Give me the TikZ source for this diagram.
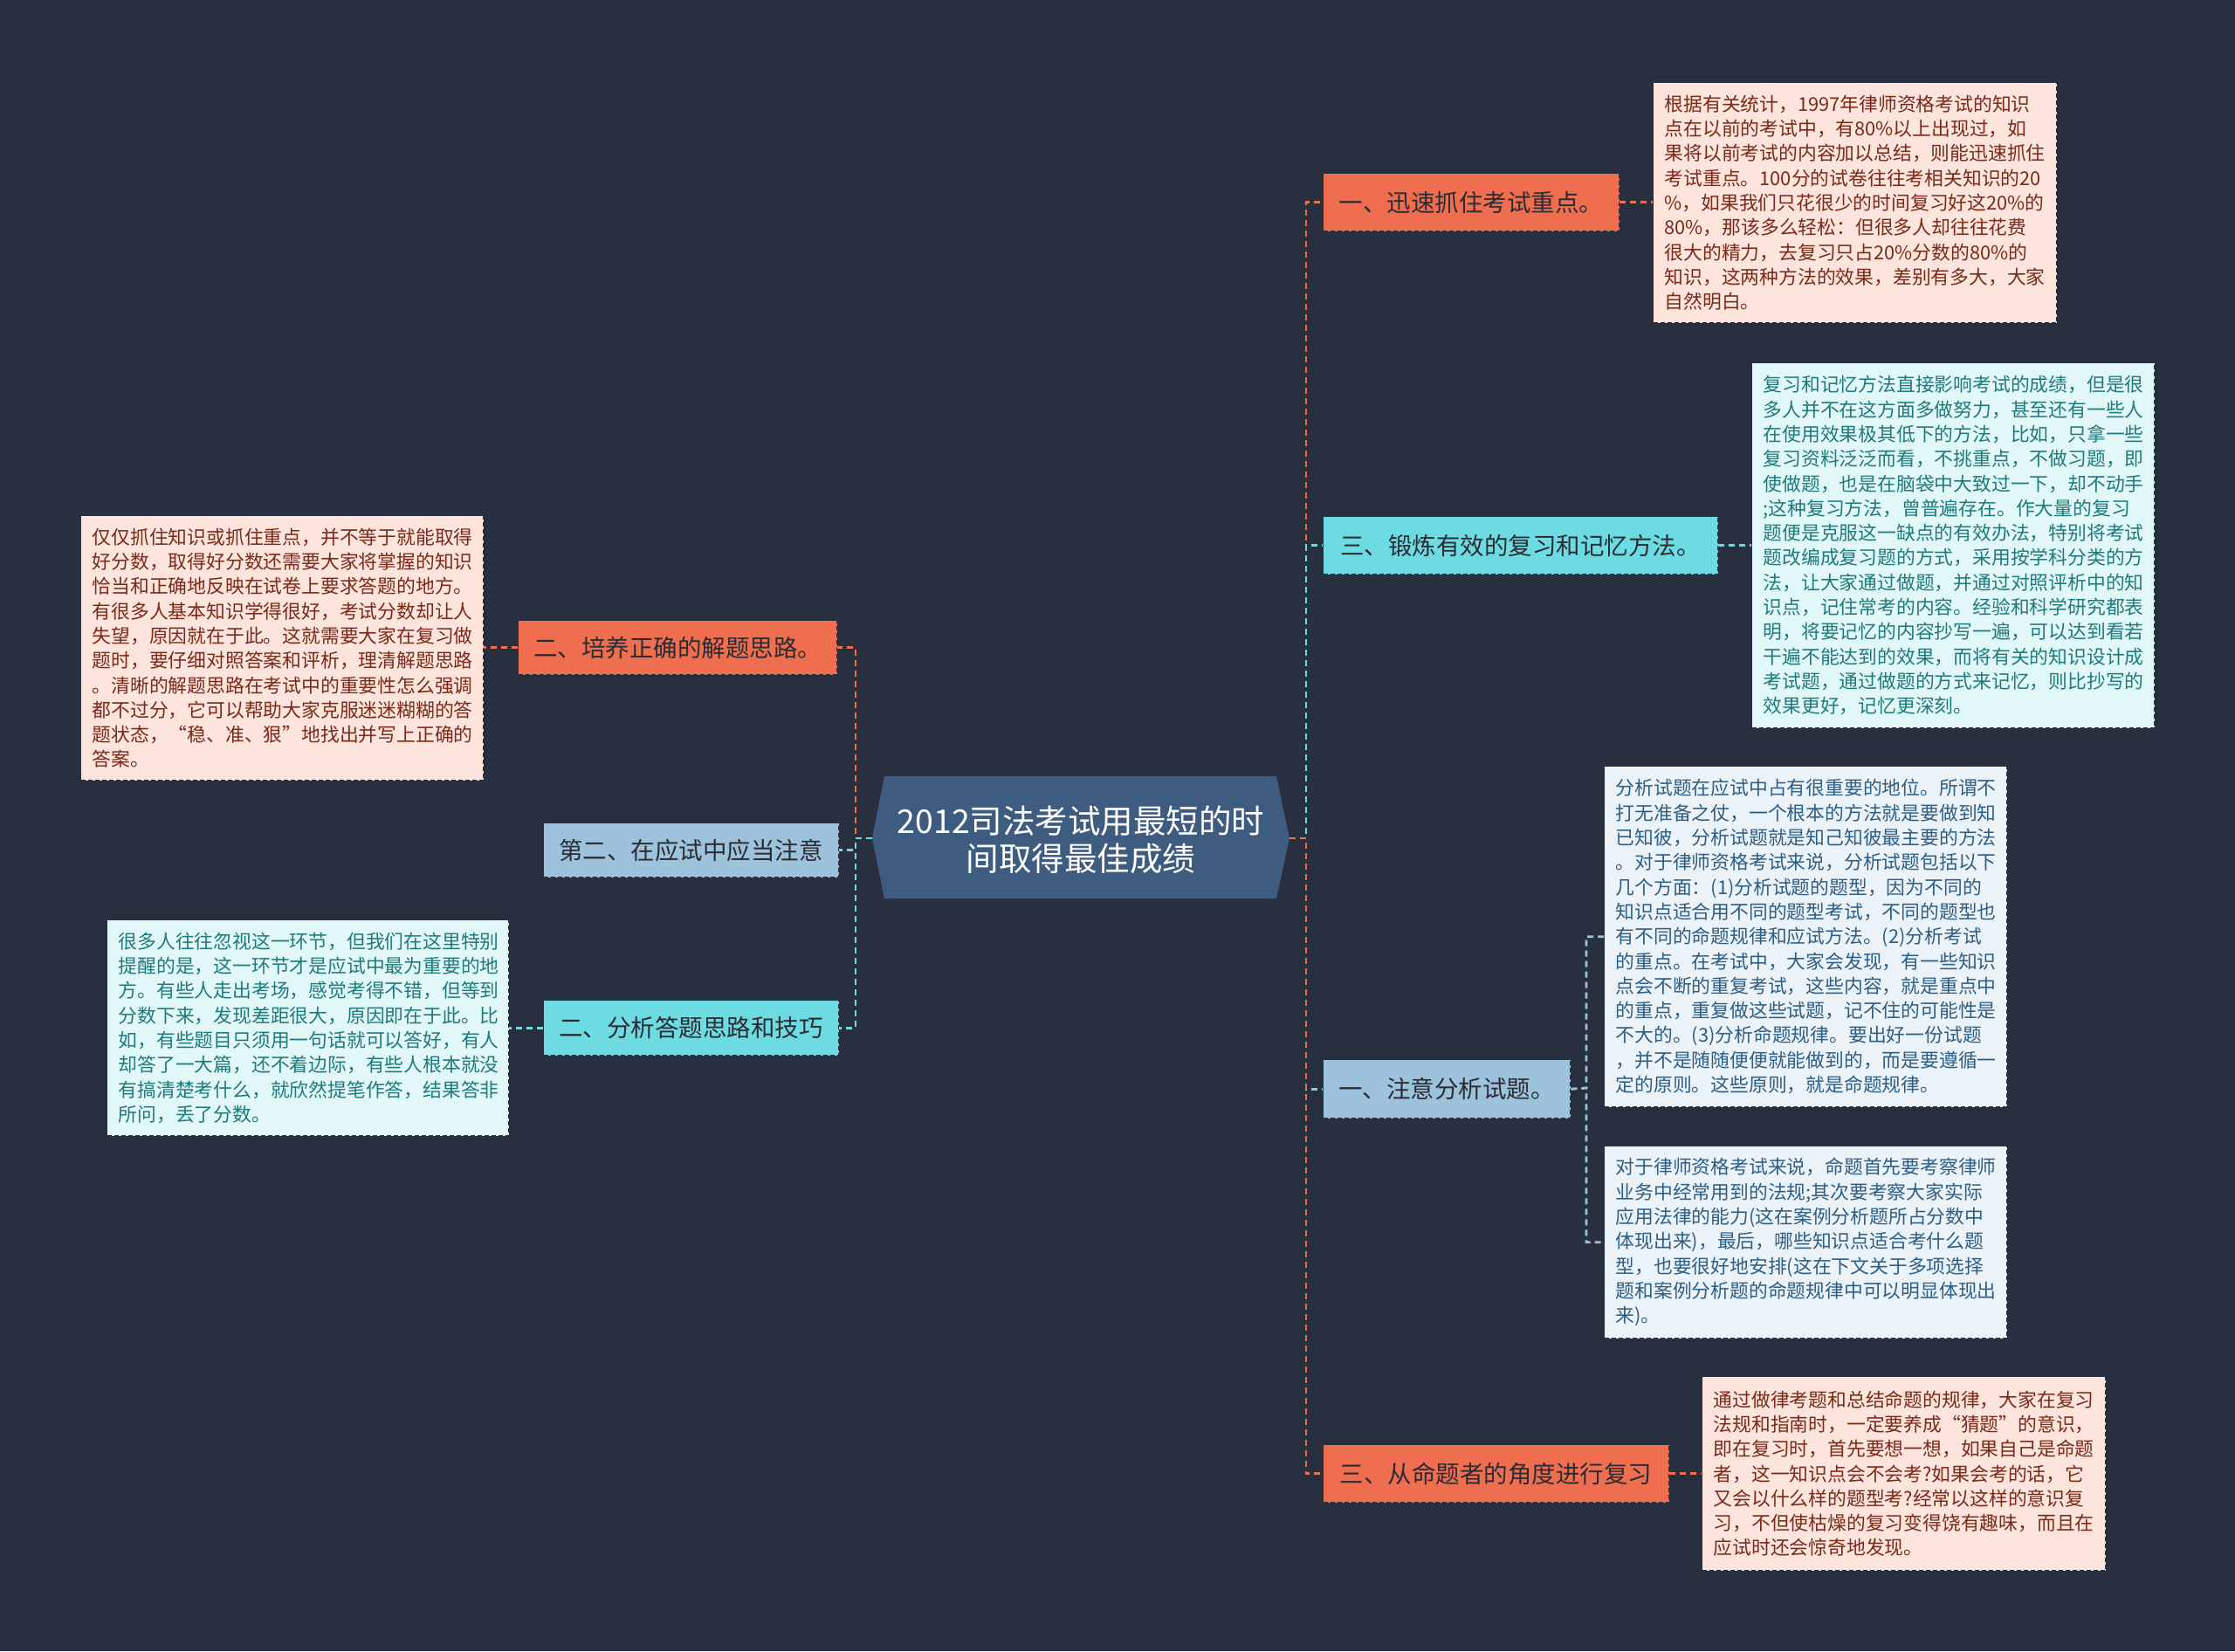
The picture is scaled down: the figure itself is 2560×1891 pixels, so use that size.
\documentclass[tikz,border=0pt]{standalone}
\usepackage{fontspec}
\setmainfont{Noto Sans CJK SC}
\definecolor{bgc}{HTML}{28303F}
\definecolor{cen}{HTML}{3E5B80}
\definecolor{ora}{HTML}{EE6E4F}
\definecolor{cya}{HTML}{6CDCE2}
\definecolor{blu}{HTML}{9DC3DC}
\definecolor{orafill}{HTML}{FDE4DD}
\definecolor{cyafill}{HTML}{E2F8F8}
\definecolor{blufill}{HTML}{ECF3F8}
\definecolor{oratext}{HTML}{7B2A17}
\definecolor{cyatext}{HTML}{1F7A7C}
\definecolor{blutext}{HTML}{2D5E86}
\definecolor{brtext}{HTML}{2B2B33}
\tikzset{
  conn/.style={dash pattern=on 7pt off 5pt, line width=2.6pt},
  detail/.style={anchor=north west, draw=bgc, dash pattern=on 5pt off 3pt,
    line width=1.4pt, align=left, inner xsep=13pt, inner ysep=0pt,
    font=\fontsize{21.8}{28.3}\selectfont},
  branch/.style={anchor=north west, draw=bgc, dash pattern=on 5pt off 3pt,
    line width=1.4pt, inner sep=0pt, text=brtext,
    font=\fontsize{27.5}{30}\selectfont},
}
\begin{document}
\begin{tikzpicture}[x=1pt,y=-1pt]
\fill[bgc] (0,0) rectangle (2560,1891);
\useasboundingbox (0,0) rectangle (2560,1891);

% center
\coordinate (cl) at (999,960);
\coordinate (cr) at (1477,960);
\fill[cen] (cl) -- (1013,889) -- (1462,889) -- (cr) -- (1462,1029) -- (1013,1029) -- cycle;
\node[text=white, align=center, font=\fontsize{37.5}{43}\selectfont] (c) at (1238,962)
  {2012司法考试用最短的时\\间取得最佳成绩};

% right branches
\node[branch, fill=ora, minimum width=339, minimum height=66] (b1) at (1515,198) {一、迅速抓住考试重点。};
\node[branch, fill=cya, minimum width=452, minimum height=66] (b2) at (1515,591) {三、锻炼有效的复习和记忆方法。};
\node[branch, fill=blu, minimum width=283, minimum height=67] (b3) at (1515,1213) {一、注意分析试题。};
\node[branch, fill=ora, minimum width=396, minimum height=66] (b4) at (1515,1654) {三、从命题者的角度进行复习};

% left branches
\node[branch, fill=ora, minimum width=365, minimum height=62] (l1) at (593,710) {二、培养正确的解题思路。};
\node[branch, fill=blu, minimum width=338, minimum height=62] (l2) at (622,942) {第二、在应试中应当注意};
\node[branch, fill=cya, minimum width=338, minimum height=63] (l3) at (622,1145) {二、分析答题思路和技巧};

% detail boxes
\node[detail, fill=orafill, text=oratext, text width=436, minimum width=462, minimum height=275] (r1) at (1893,94)
{根据有关统计，1997年律师资格考试的知识\\
点在以前的考试中，有80\%以上出现过，如\\
果将以前考试的内容加以总结，则能迅速抓住\\
考试重点。100分的试卷往往考相关知识的20\\
\%，如果我们只花很少的时间复习好这20\%的\\
80\%，那该多么轻松：但很多人却往往花费\\
很大的精力，去复习只占20\%分数的80\%的\\
知识，这两种方法的效果，差别有多大，大家\\
自然明白。};

\node[detail, fill=cyafill, text=cyatext, text width=435, minimum width=461, minimum height=418] (r2) at (2006,415)
{复习和记忆方法直接影响考试的成绩，但是很\\
多人并不在这方面多做努力，甚至还有一些人\\
在使用效果极其低下的方法，比如，只拿一些\\
复习资料泛泛而看，不挑重点，不做习题，即\\
使做题，也是在脑袋中大致过一下，却不动手\\
;这种复习方法，曾普遍存在。作大量的复习\\
题便是克服这一缺点的有效办法，特别将考试\\
题改编成复习题的方式，采用按学科分类的方\\
法，让大家通过做题，并通过对照评析中的知\\
识点，记住常考的内容。经验和科学研究都表\\
明，将要记忆的内容抄写一遍，可以达到看若\\
干遍不能达到的效果，而将有关的知识设计成\\
考试题，通过做题的方式来记忆，则比抄写的\\
效果更好，记忆更深刻。};

\node[detail, fill=blufill, text=blutext, text width=435, minimum width=461, minimum height=390] (r3) at (1837,877)
{分析试题在应试中占有很重要的地位。所谓不\\
打无准备之仗，一个根本的方法就是要做到知\\
已知彼，分析试题就是知己知彼最主要的方法\\
。对于律师资格考试来说，分析试题包括以下\\
几个方面：(1)分析试题的题型，因为不同的\\
知识点适合用不同的题型考试，不同的题型也\\
有不同的命题规律和应试方法。(2)分析考试\\
的重点。在考试中，大家会发现，有一些知识\\
点会不断的重复考试，这些内容，就是重点中\\
的重点，重复做这些试题，记不住的可能性是\\
不大的。(3)分析命题规律。要出好一份试题\\
，并不是随随便便就能做到的，而是要遵循一\\
定的原则。这些原则，就是命题规律。};

\node[detail, fill=blufill, text=blutext, text width=435, minimum width=461, minimum height=220] (r4) at (1837,1312)
{对于律师资格考试来说，命题首先要考察律师\\
业务中经常用到的法规;其次要考察大家实际\\
应用法律的能力(这在案例分析题所占分数中\\
体现出来)，最后，哪些知识点适合考什么题\\
型，也要很好地安排(这在下文关于多项选择\\
题和案例分析题的命题规律中可以明显体现出\\
来)。};

\node[detail, fill=orafill, text=oratext, text width=436, minimum width=462, minimum height=222] (r5) at (1949,1576)
{通过做律考题和总结命题的规律，大家在复习\\
法规和指南时，一定要养成“猜题”的意识，\\
即在复习时，首先要想一想，如果自己是命题\\
者，这一知识点会不会考?如果会考的话，它\\
又会以什么样的题型考?经常以这样的意识复\\
习，不但使枯燥的复习变得饶有趣味，而且在\\
应试时还会惊奇地发现。};

\node[detail, fill=orafill, text=oratext, text width=435, minimum width=461, minimum height=303] (d1) at (92,590)
{仅仅抓住知识或抓住重点，并不等于就能取得\\
好分数，取得好分数还需要大家将掌握的知识\\
恰当和正确地反映在试卷上要求答题的地方。\\
有很多人基本知识学得很好，考试分数却让人\\
失望，原因就在于此。这就需要大家在复习做\\
题时，要仔细对照答案和评析，理清解题思路\\
。清晰的解题思路在考试中的重要性怎么强调\\
都不过分，它可以帮助大家克服迷迷糊糊的答\\
题状态，“稳、准、狠”地找出并写上正确的\\
答案。};

\node[detail, fill=cyafill, text=cyatext, text width=434, minimum width=460, minimum height=247] (d2) at (122,1053)
{很多人往往忽视这一环节，但我们在这里特别\\
提醒的是，这一环节才是应试中最为重要的地\\
方。有些人走出考场，感觉考得不错，但等到\\
分数下来，发现差距很大，原因即在于此。比\\
如，有些题目只须用一句话就可以答好，有人\\
却答了一大篇，还不着边际，有些人根本就没\\
有搞清楚考什么，就欣然提笔作答，结果答非\\
所问，丢了分数。};

% connectors: right trunk
\coordinate (rt) at (1496,960);
\draw[conn, draw=ora] (cr) -- (rt) |- (b1.west);
\draw[conn, draw=cya] (cr) -- (rt) |- (b2.west);
\draw[conn, draw=blu] (cr) -- (rt) |- (b3.west);
\draw[conn, draw=ora] (cr) -- (rt) |- (b4.west);

% connectors: left trunk
\coordinate (lt) at (980,960);
\draw[conn, draw=ora] (cl) -- (lt) |- (l1.east);
\draw[conn, draw=blu] (cl) -- (lt) |- (l2.east);
\draw[conn, draw=cya] (cl) -- (lt) |- (l3.east);

% branch to details
\draw[conn, draw=ora] (b1.east) -- (r1.west |- b1.east);
\draw[conn, draw=cya] (b2.east) -- (r2.west |- b2.east);
\coordinate (j) at (1817,1246);
\draw[conn, draw=blu] (b3.east) -- (j) |- (r3.west);
\draw[conn, draw=blu] (b3.east) -- (j) |- (r4.west);
\draw[conn, draw=ora] (b4.east) -- (r5.west |- b4.east);
\draw[conn, draw=ora] (l1.west) -- (d1.east |- l1.west);
\draw[conn, draw=cya] (l3.west) -- (d2.east |- l3.west);
\end{tikzpicture}
\end{document}
